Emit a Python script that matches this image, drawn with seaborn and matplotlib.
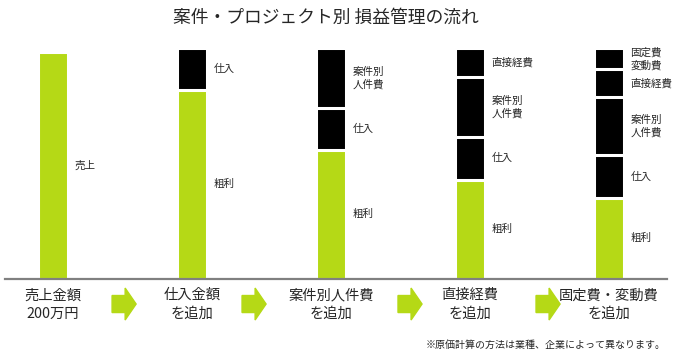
import matplotlib.pyplot as plt
from matplotlib.patches import FancyArrow
import numpy as np
import pandas as pd
import seaborn as sns

stages = ["売上金額\n200万円", "仕入金額\nを追加", "案件別人件費\nを追加",
          "直接経費\nを追加", "固定費・変動費\nを追加"]

# 万円, bottom segment first
gross = [197, 164, 112, 86, 70]      # 売上 / 粗利
purchase = [0, 36, 36, 37, 37]       # 仕入
labor = [0, 0, 52, 52, 51]           # 案件別人件費
direct = [0, 0, 0, 25, 24]           # 直接経費
fixed = [0, 0, 0, 0, 18]             # 固定費・変動費

seg_names = ["粗利", "仕入", "案件別\n人件費", "直接経費", "固定費\n変動費"]
first_name = "売上"

GREEN = "#b5d916"
TEXT = "#262626"

sns.set_style("white")
plt.rcParams["font.family"] = ["Noto Sans CJK JP", "DejaVu Sans"]

fig = plt.figure(figsize=(6.8, 3.6), dpi=100)
ax = fig.add_axes([0, (360 - 278.5) / 360, 1, 230 / 360])

vals = pd.DataFrame(np.array([gross, purchase, labor, direct, fixed]).T,
                    columns=seg_names)
vals.insert(0, "stage", stages)
cum = vals[seg_names].cumsum(axis=1)

# tallest cumulative layer first, lower layers drawn over it
for i in reversed(range(len(seg_names))):
    name = seg_names[i]
    sub = pd.DataFrame({"stage": stages, "top": cum[name], "val": vals[name]})
    sub = sub[sub["val"] > 0]
    sns.barplot(data=sub, x="stage", y="top", order=stages,
                color=GREEN if i == 0 else "black", saturation=1,
                width=0.216, edgecolor="white", linewidth=2.2, ax=ax)

# segment labels to the right of each bar
for j in range(len(stages)):
    for i, name in enumerate(seg_names):
        v = vals[name][j]
        if v <= 0:
            continue
        label = first_name if (j == 0 and i == 0) else name
        ax.text(j + 0.155, cum[name][j] - v / 2, label, ha="left", va="center",
                fontsize=7.6, color=TEXT, linespacing=1.25)

# arrows between stages
arrow_pos = [0.511, 1.446, 2.568, 3.561]
for xm in arrow_pos:
    ax.add_patch(FancyArrow(xm - 0.086, -22.2, 0.173, 0, width=14.8,
                            head_width=27.8, head_length=0.079,
                            length_includes_head=True, color=GREEN,
                            clip_on=False))

ax.set_xlim(-53 / 139, (680 - 53) / 139)
ax.set_ylim(0, 200)
ax.set_xlabel("")
ax.set_ylabel("")
ax.set_yticks([])
ax.set_xticks(range(len(stages)))
ax.set_xticklabels(stages, fontsize=10.3, color=TEXT, linespacing=1.4)
ax.tick_params(axis="x", length=0, pad=7)

sns.despine(ax=ax, left=True)
ax.spines["bottom"].set_color("#808080")
ax.spines["bottom"].set_linewidth(1.6)
ax.spines["bottom"].set_bounds(-0.345, 4.417)

fig.text(326 / 680, 1 - 18 / 360, "案件・プロジェクト別 損益管理の流れ",
         ha="center", va="center", fontsize=12.8, color=TEXT)
fig.text(666 / 680, 1 - 345 / 360, "※原価計算の方法は業種、企業によって異なります。",
         ha="right", va="center", fontsize=7.2, color=TEXT)

fig.savefig("out.png", dpi=100)
